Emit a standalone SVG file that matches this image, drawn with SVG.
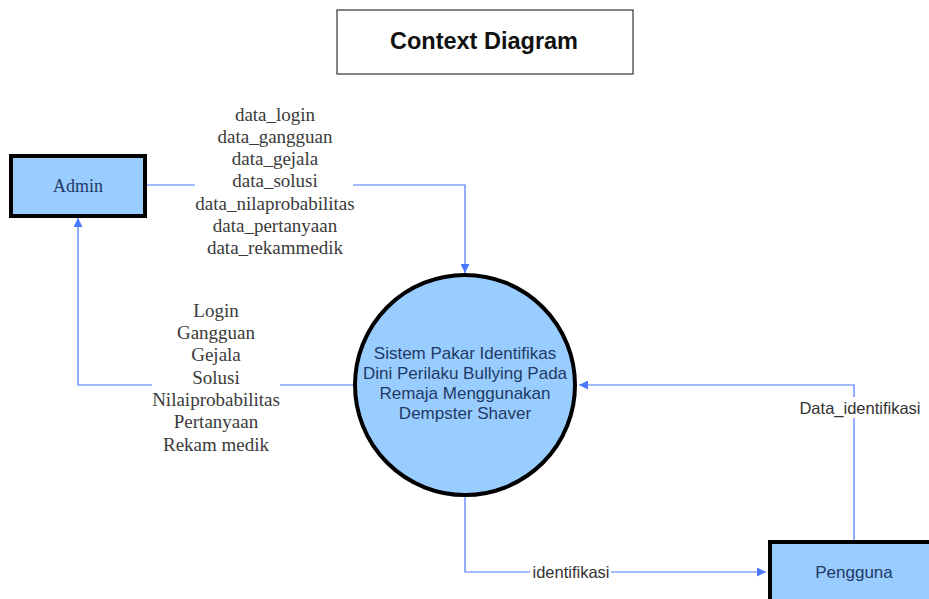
<svg xmlns="http://www.w3.org/2000/svg" width="929" height="599" viewBox="0 0 929 599">
<defs>
<style>
.ext{fill:#99ccff;stroke:#000;stroke-width:4}
.conn{fill:none;stroke:#4a77ff;stroke-width:1.2}
.lbl{font-family:"Liberation Serif","Times New Roman",serif;font-size:19px;fill:#3a3a3a;text-anchor:middle}
.slbl{font-family:"Liberation Sans",Arial,sans-serif;font-size:16.5px;fill:#333;text-anchor:middle}
.ntext{font-family:"Liberation Sans",Arial,sans-serif;font-size:17px;fill:#1f3a66;text-anchor:middle}
</style>
<marker id="arr" viewBox="0 0 10 10" refX="10" refY="5" markerWidth="9" markerHeight="9" markerUnits="userSpaceOnUse" orient="auto">
<path d="M0,0 L10,5 L0,10 z" fill="#4a77ff"/>
</marker>
</defs>
<rect width="929" height="599" fill="#fff"/>
<g id="title">
<rect x="337" y="10" width="296" height="64" fill="#fff" stroke="#333" stroke-width="1.2"/>
<text x="484" y="49" font-family="Liberation Sans, Arial, sans-serif" font-size="23.5" font-weight="bold" fill="#111" text-anchor="middle">Context Diagram</text>
</g>
<g id="connectors">
<path class="conn" d="M146,185 H195 M353,185 H465 V273" marker-end="url(#arr)"/>
<path class="conn" d="M355,385 H280 M152,385 H78 V218" marker-end="url(#arr)"/>
<path class="conn" d="M465,496 V572 H530 M611,572 H766" marker-end="url(#arr)"/>
<path class="conn" d="M854,540 V418 M854,397 V385 H579" marker-end="url(#arr)"/>
<g class="lbl">
<text x="275" y="121">data_login</text>
<text x="275" y="143">data_gangguan</text>
<text x="275" y="165">data_gejala</text>
<text x="275" y="187">data_solusi</text>
<text x="275" y="210">data_nilaprobabilitas</text>
<text x="275" y="232">data_pertanyaan</text>
<text x="275" y="254">data_rekammedik</text>
<text x="216" y="317">Login</text>
<text x="216" y="339">Gangguan</text>
<text x="216" y="361">Gejala</text>
<text x="216" y="384">Solusi</text>
<text x="216" y="406">Nilaiprobabilitas</text>
<text x="216" y="428">Pertanyaan</text>
<text x="216" y="451">Rekam medik</text>
</g>
<text class="slbl" x="571" y="578">identifikasi</text>
<text class="slbl" x="860" y="414">Data_identifikasi</text>
</g>
<g id="admin">
<rect class="ext" x="11" y="156" width="134" height="60"/>
<text x="78" y="192" font-family="Liberation Serif, Times New Roman, serif" font-size="18" fill="#1f3a66" text-anchor="middle">Admin</text>
</g>
<g id="sistem">
<circle cx="465" cy="385" r="110" fill="#99ccff" stroke="#000" stroke-width="4"/>
<text class="ntext" x="465" y="359">Sistem Pakar Identifikas</text>
<text class="ntext" x="465" y="379">Dini Perilaku Bullying Pada</text>
<text class="ntext" x="465" y="399">Remaja Menggunakan</text>
<text class="ntext" x="465" y="419">Dempster Shaver</text>
</g>
<g id="pengguna">
<rect class="ext" x="770" y="542" width="170" height="70"/>
<text class="ntext" x="854" y="578" font-size="18">Pengguna</text>
</g>
</svg>
